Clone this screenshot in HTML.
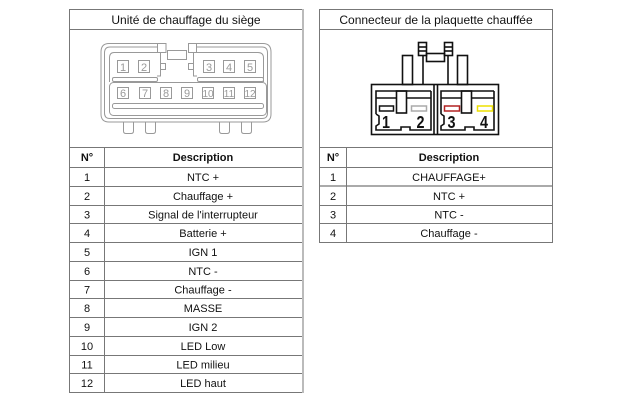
<!DOCTYPE html>
<html><head><meta charset="utf-8"><style>
html,body{margin:0;padding:0;background:#fff;}
svg{display:block;}
text{font-family:"Liberation Sans",Arial,sans-serif;fill:#111;}
</style></head><body>
<svg width="623" height="402" viewBox="0 0 623 402" xmlns="http://www.w3.org/2000/svg">
<!-- LEFT TABLE -->
<g stroke="#777" stroke-width="1" fill="none">
<line x1="69" y1="9.5" x2="302" y2="9.5"/>
<line x1="69" y1="29.5" x2="302" y2="29.5"/>
<line x1="69" y1="147.5" x2="302" y2="147.5"/>
<line x1="69" y1="167.5" x2="302" y2="167.5"/>
<line x1="69" y1="186.5" x2="302" y2="186.5"/>
<line x1="69" y1="205.5" x2="302" y2="205.5"/>
<line x1="69" y1="223.5" x2="302" y2="223.5"/>
<line x1="69" y1="242.5" x2="302" y2="242.5"/>
<line x1="69" y1="261.5" x2="302" y2="261.5"/>
<line x1="69" y1="280.5" x2="302" y2="280.5"/>
<line x1="69" y1="298.5" x2="302" y2="298.5"/>
<line x1="69" y1="317.5" x2="302" y2="317.5"/>
<line x1="69" y1="336.5" x2="302" y2="336.5"/>
<line x1="69" y1="355.5" x2="302" y2="355.5"/>
<line x1="69" y1="373.5" x2="302" y2="373.5"/>
<line x1="69" y1="392.5" x2="302" y2="392.5"/>
<line x1="69.5" y1="9" x2="69.5" y2="393"/>
<line x1="104.5" y1="147" x2="104.5" y2="393"/>
</g>
<line x1="303" y1="9" x2="303" y2="393" stroke="#bbb" stroke-width="2"/>

<text x="186" y="24" font-size="12" text-anchor="middle">Unité de chauffage du siège</text>
<g font-size="11" text-anchor="middle">
<text x="87" y="161" font-weight="bold">N°</text>
<text x="203" y="161" font-weight="bold">Description</text>
<text x="87" y="181">1</text><text x="203" y="181">NTC +</text>
<text x="87" y="200">2</text><text x="203" y="200">Chauffage +</text>
<text x="87" y="218.5">3</text><text x="203" y="218.5">Signal de l'interrupteur</text>
<text x="87" y="237">4</text><text x="203" y="237">Batterie +</text>
<text x="87" y="256">5</text><text x="203" y="256">IGN 1</text>
<text x="87" y="275">6</text><text x="203" y="275">NTC -</text>
<text x="87" y="293.5">7</text><text x="203" y="293.5">Chauffage -</text>
<text x="87" y="312">8</text><text x="203" y="312">MASSE</text>
<text x="87" y="331">9</text><text x="203" y="331">IGN 2</text>
<text x="87" y="350">10</text><text x="203" y="350">LED Low</text>
<text x="87" y="368.5">11</text><text x="203" y="368.5">LED milieu</text>
<text x="87" y="387">12</text><text x="203" y="387">LED haut</text>
</g>

<!-- LEFT CONNECTOR -->
<g stroke="#999" stroke-width="1" fill="none">
<path d="M109,43.5 H157 M196,43.5 H263 Q271,43.5 271,52 V114 Q271,122 263,122 H109 Q101,122 101,114 V52 Q101,43.5 109,43.5"/>
<path d="M110,47 H157 M196,47 H262 Q267.5,47 267.5,53 V113 Q267.5,118.5 262,118.5 H110 Q104.5,118.5 104.5,113 V53 Q104.5,47 110,47"/>
<rect x="157.5" y="43.5" width="8.5" height="9"/>
<rect x="188.5" y="43.5" width="8" height="9"/>
<rect x="167.5" y="50.5" width="19" height="9"/>
<rect x="160.5" y="63.5" width="5" height="6"/>
<rect x="188.5" y="63.5" width="5" height="6"/>
<path d="M114,52.5 H160.5 V76 H157 M109.5,82 V58 Q109.5,52.5 114,52.5"/>
<path d="M193.5,52.5 H258 Q263.5,52.5 263.5,58 V82 M193.5,52.5 V76 H197"/>
<rect x="112.5" y="77.5" width="45" height="4" rx="1.5"/>
<rect x="197.5" y="77.5" width="66" height="4" rx="1.5"/>
<rect x="109.5" y="82.5" width="157" height="33" rx="4"/>
<rect x="112.5" y="103.5" width="151" height="5" rx="2"/>
<rect x="117.5" y="60.5" width="11" height="12"/>
<rect x="138.5" y="60.5" width="11" height="12"/>
<rect x="203.5" y="60.5" width="11" height="12"/>
<rect x="223.5" y="60.5" width="11" height="12"/>
<rect x="244.5" y="60.5" width="11" height="12"/>
<rect x="117.5" y="87.5" width="11" height="11"/>
<rect x="139.5" y="87.5" width="11" height="11"/>
<rect x="160.5" y="87.5" width="11" height="11"/>
<rect x="181.5" y="87.5" width="11" height="11"/>
<rect x="202.5" y="87.5" width="11" height="11"/>
<rect x="223.5" y="87.5" width="11" height="11"/>
<rect x="244.5" y="87.5" width="11" height="11"/>
<path d="M123.5,122 V131 Q123.5,133.5 126,133.5 H131 Q133.5,133.5 133.5,131 V122"/>
<path d="M145.5,122 V131 Q145.5,133.5 148,133.5 H153 Q155.5,133.5 155.5,131 V122"/>
<path d="M219.5,122 V131 Q219.5,133.5 222,133.5 H227 Q229.5,133.5 229.5,131 V122"/>
<path d="M241.5,122 V131 Q241.5,133.5 244,133.5 H249 Q251.5,133.5 251.5,131 V122"/>
</g>
<g font-size="11" fill="#999" text-anchor="middle" style="fill:#999">
<text x="123" y="71" style="fill:#999">1</text>
<text x="144" y="71" style="fill:#999">2</text>
<text x="209" y="71" style="fill:#999">3</text>
<text x="229" y="71" style="fill:#999">4</text>
<text x="250" y="71" style="fill:#999">5</text>
<text x="123" y="97" style="fill:#999">6</text>
<text x="145" y="97" style="fill:#999">7</text>
<text x="166" y="97" style="fill:#999">8</text>
<text x="187" y="97" style="fill:#999">9</text>
<text x="208" y="97" style="fill:#999" font-size="10">10</text>
<text x="229" y="97" style="fill:#999" font-size="10">11</text>
<text x="250" y="97" style="fill:#999" font-size="10">12</text>
</g>

<!-- RIGHT TABLE -->
<g stroke="#777" stroke-width="1" fill="none">
<line x1="319" y1="9.5" x2="553" y2="9.5"/>
<line x1="319" y1="29.5" x2="553" y2="29.5"/>
<line x1="319" y1="147.5" x2="553" y2="147.5"/>
<line x1="319" y1="167.5" x2="553" y2="167.5"/>
<line x1="319" y1="186" x2="553" y2="186" stroke="#aaa" stroke-width="2"/>
<line x1="319" y1="205.5" x2="553" y2="205.5"/>
<line x1="319" y1="223.5" x2="553" y2="223.5"/>
<line x1="319" y1="242.5" x2="553" y2="242.5"/>
<line x1="319.5" y1="9" x2="319.5" y2="243"/>
<line x1="346.5" y1="147" x2="346.5" y2="243"/>
<line x1="552.5" y1="9" x2="552.5" y2="243"/>
</g>
<text x="436" y="24" font-size="12" text-anchor="middle">Connecteur de la plaquette chauffée</text>
<g font-size="11" text-anchor="middle">
<text x="333" y="161" font-weight="bold">N°</text>
<text x="449" y="161" font-weight="bold">Description</text>
<text x="333" y="181">1</text><text x="449" y="181">CHAUFFAGE+</text>
<text x="333" y="200">2</text><text x="449" y="200">NTC +</text>
<text x="333" y="218.5">3</text><text x="449" y="218.5">NTC -</text>
<text x="333" y="237">4</text><text x="449" y="237">Chauffage -</text>
</g>

<!-- RIGHT CONNECTOR -->
<g stroke="#111" fill="none" stroke-width="1.6">
<rect x="371.5" y="84.5" width="127" height="50"/>
<line x1="434" y1="84" x2="434" y2="135"/>
<line x1="437.5" y1="84" x2="437.5" y2="135"/>
<rect x="402.5" y="55.5" width="10" height="29"/>
<rect x="457.5" y="55.5" width="10" height="29"/>
<line x1="423" y1="56" x2="423" y2="84"/>
<line x1="448" y1="56" x2="448" y2="84"/>
<rect x="418.5" y="42.5" width="8" height="13"/>
<line x1="418" y1="47" x2="427" y2="47"/>
<line x1="418" y1="51" x2="427" y2="51"/>
<rect x="444.5" y="42.5" width="8" height="13"/>
<line x1="444" y1="47" x2="453" y2="47"/>
<line x1="444" y1="51" x2="453" y2="51"/>
<rect x="426.5" y="53.5" width="18" height="8"/>
<!-- left half inner -->
<path d="M376,114 V91 H431 M376,98 H396 M406,98 H431 M376,114 L379,116 V124 L376,126 V130 H401 V127 H410 V130 H431 V91"/>
<rect x="396.5" y="91" width="10" height="22"/>
<!-- right half inner -->
<path d="M441,114 V91 H494 M441,98 H461 M471,98 H494 M441,114 L444,116 V124 L441,126 V130 H465 V127 H474 V130 H494 V91"/>
<rect x="461.5" y="91" width="10" height="22"/>
</g>
<rect x="379.5" y="106" width="14" height="5" fill="#fff" stroke="#111" stroke-width="1.5"/>
<rect x="411.5" y="106" width="15" height="5" fill="#fff" stroke="#aaa" stroke-width="1.5"/>
<rect x="444.5" y="106" width="15" height="5" fill="#fff" stroke="#b22222" stroke-width="1.5"/>
<rect x="477.5" y="106" width="15" height="5" fill="#fff" stroke="#eee000" stroke-width="1.5"/>
<g font-size="18" font-weight="bold" text-anchor="middle">
<text x="0" y="0" transform="translate(386,128) scale(0.8,1)">1</text>
<text x="0" y="0" transform="translate(420.5,128) scale(0.8,1)">2</text>
<text x="0" y="0" transform="translate(451.5,128) scale(0.8,1)">3</text>
<text x="0" y="0" transform="translate(484,128) scale(0.8,1)">4</text>
</g>
</svg>
</body></html>
